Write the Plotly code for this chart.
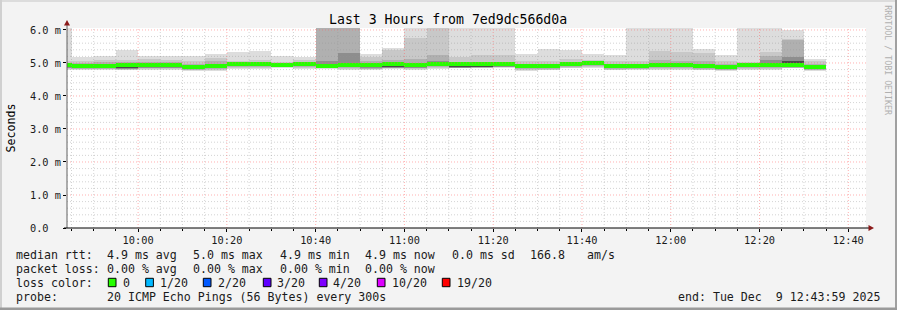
import plotly.graph_objects as go
from datetime import datetime, timedelta

# ---------------- data ----------------
# 5-minute bins, first bin starts 09:40 (partly before the window start)
bin_start = [datetime(2025, 12, 9, 9, 40) + timedelta(minutes=5 * i) for i in range(35)]

median = [4.93, 4.92, 4.92, 4.93, 4.95, 4.95, 4.89, 4.90, 4.98, 4.97, 4.95, 4.96, 4.91, 4.95, 4.93,
          4.97, 4.93, 4.98, 4.96, 4.98, 4.96, 4.91, 4.91, 4.97, 5.01, 4.91, 4.90, 4.94, 4.93, 4.90,
          4.88, 4.94, 4.93, 4.93, 4.89]
# smoke layers (outer -> inner), upper edges
hi1 = [6.5, 5.18, 5.22, 5.38, 5.20, 5.22, 5.21, 5.28, 5.32, 5.35, 5.22, 5.18, 6.5, 6.5, 5.26,
       5.44, 6.5, 6.5, 6.5, 6.5, 6.5, 5.28, 5.43, 5.40, 5.26, 5.25, 6.5, 6.5, 6.5, 5.43,
       5.25, 6.5, 6.5, 5.99, 5.13]
hi2 = [5.05, 5.06, 5.08, 5.10, 5.12, 5.10, 5.05, 5.15, 5.05, 5.10, 5.02, 5.10, 6.5, 6.5, 5.17,
       5.38, 5.75, 6.5, 5.19, 5.24, 5.24, 5.05, 5.05, 5.12, 5.08, 5.05, 5.05, 5.36, 5.32, 5.29,
       5.06, 5.02, 5.32, 5.73, 5.05]
hi3 = [4.99, 5.00, 5.02, 5.02, 5.02, 5.02, 4.98, 5.05, 5.01, 5.03, 4.99, 5.01, 6.5, 6.5, 5.05,
       5.08, 5.12, 5.24, 5.04, 5.04, 5.02, 4.98, 4.98, 5.03, 5.06, 4.98, 4.97, 5.08, 5.05, 5.05,
       4.98, 5.00, 5.20, 5.70, 4.98]
hi4 = [4.97, 4.96, 4.98, 4.97, 4.98, 4.98, 4.94, 4.96, 5.01, 5.01, 4.99, 4.99, 5.05, 5.30, 4.98,
       5.02, 4.97, 5.05, 5.00, 5.01, 4.99, 4.95, 4.95, 5.01, 5.04, 4.96, 4.94, 5.00, 4.98, 4.96,
       4.93, 4.98, 5.10, 5.19, 4.94]
hi5 = [4.95, 4.94, 4.96, 4.95, 4.97, 4.97, 4.91, 4.92, 5.00, 4.99, 5.00, 4.98, 4.98, 5.00, 4.95,
       4.99, 4.95, 5.00, 4.98, 5.00, 4.98, 4.93, 4.93, 4.99, 5.03, 4.96, 4.92, 4.96, 4.95, 4.92,
       4.90, 4.96, 4.98, 5.05, 4.91]
# lower edges
lo5 = [4.90, 4.89, 4.89, 4.85, 4.87, 4.87, 4.86, 4.87, 4.95, 4.94, 4.92, 4.93, 4.88, 4.92, 4.90,
       4.88, 4.90, 4.95, 4.88, 4.89, 4.93, 4.88, 4.88, 4.94, 4.98, 4.88, 4.87, 4.91, 4.90, 4.87,
       4.85, 4.91, 4.90, 4.90, 4.86]
lo4 = [4.86, 4.85, 4.85, 4.83, 4.86, 4.86, 4.83, 4.84, 4.91, 4.91, 4.89, 4.90, 4.85, 4.88, 4.86,
       4.86, 4.86, 4.91, 4.86, 4.87, 4.89, 4.85, 4.85, 4.90, 4.94, 4.85, 4.84, 4.88, 4.87, 4.84,
       4.82, 4.88, 4.87, 4.87, 4.83]
lo3 = [4.84, 4.83, 4.83, 4.81, 4.84, 4.84, 4.80, 4.81, 4.88, 4.88, 4.87, 4.88, 4.85, 4.84, 4.83,
       4.85, 4.84, 4.88, 4.85, 4.86, 4.87, 4.82, 4.82, 4.88, 4.90, 4.82, 4.82, 4.85, 4.84, 4.82,
       4.80, 4.85, 4.84, 4.85, 4.80]
lo2 = [4.82, 4.81, 4.81, 4.79, 4.82, 4.82, 4.78, 4.78, 4.86, 4.86, 4.87, 4.86, 4.85, 4.81, 4.81,
       4.84, 4.82, 4.86, 4.87, 4.87, 4.87, 4.79, 4.80, 4.86, 4.87, 4.80, 4.81, 4.81, 4.81, 4.80,
       4.78, 4.82, 4.81, 4.85, 4.78]
lo1 = [4.80, 4.78, 4.78, 4.78, 4.80, 4.80, 4.75, 4.75, 4.83, 4.83, 4.85, 4.83, 4.83, 4.78, 4.78,
       4.83, 4.80, 4.83, 4.85, 4.85, 4.85, 4.75, 4.78, 4.85, 4.85, 4.78, 4.80, 4.78, 4.78, 4.78,
       4.75, 4.78, 4.78, 4.85, 4.76]

y_tick_vals = [0, 1, 2, 3, 4, 5, 6]
y_tick_text = ["0.0\u00a0\u00a0", "1.0 m", "2.0 m", "3.0 m", "4.0 m", "5.0 m", "6.0 m"]

title_text = "Last 3 Hours from 7ed9dc566d0a"
rtt_stats = ["4.9 ms avg", "5.0 ms max", "4.9 ms min", "4.9 ms now", "0.0 ms sd", "166.8", "am/s"]
loss_stats = ["0.00 % avg", "0.00 % max", "0.00 % min", "0.00 % now"]
loss_labels = ["0", "1/20", "2/20", "3/20", "4/20", "10/20", "19/20"]
loss_colors = ["#26ff00", "#00b8ff", "#0059ff", "#5e00ff", "#7e00ff", "#dd00ff", "#ff0000"]
probe_text = "20 ICMP Echo Pings (56 Bytes) every 300s"
end_text = "end: Tue Dec\u00a0\u00a09 12:43:59 2025"

for arr in (median, hi1, hi2, hi3, hi4, hi5, lo1, lo2, lo3, lo4, lo5):
    assert len(arr) == len(bin_start)

# ---------------- figure ----------------
W, H = 897, 310
ML, MR, MT, MB = 67, 31, 28, 82
PW, PH = W - ML - MR, H - MT - MB


def px(xp):
    return (xp - ML) / PW


def py(yp):
    return (H - MB - yp) / PH


MONO = "DejaVu Sans Mono"
centers = [b + timedelta(minutes=2.5) for b in bin_start]
BW = 5 * 60 * 1000

fig = go.Figure()
layers = [(lo1, hi1, "#dddddd"), (lo2, hi2, "#c8c8c8"), (lo3, hi3, "#b0b0b0"),
          (lo4, hi4, "#8e8e8e"), (lo5, hi5, "#4a4a4a")]
for lo, hi, col in layers:
    fig.add_trace(go.Bar(x=centers, base=lo, y=[h - l for h, l in zip(hi, lo)], width=BW,
                         marker=dict(color=col, line=dict(width=0)), hoverinfo="skip",
                         showlegend=False))
# median band
MW = 0.12
fig.add_trace(go.Bar(x=centers, base=[m - MW / 2 for m in median], y=[MW] * len(median), width=BW,
                     marker=dict(color=loss_colors[0], line=dict(width=0)), hoverinfo="skip",
                     showlegend=False))

t0 = datetime(2025, 12, 9, 9, 43, 59)
t1 = datetime(2025, 12, 9, 12, 43, 59)

shapes = []
# grid above data (dotted)
minor_c = "rgba(150,150,150,0.42)"
major_c = "rgba(255,100,100,0.5)"
DASH = "1px,2px"
for k in range(1, 31):
    v = k * 0.2
    is_major = k % 5 == 0
    shapes.append(dict(type="line", xref="paper", yref="y", x0=0, x1=1, y0=v, y1=v, layer="above",
                       line=dict(color=major_c if is_major else minor_c, width=1, dash=DASH)))
t = datetime(2025, 12, 9, 9, 45)
while t <= t1:
    is_major = t.minute % 20 == 0
    shapes.append(dict(type="line", xref="x", yref="paper", x0=t, x1=t, y0=0, y1=1, layer="above",
                       line=dict(color=major_c if is_major else minor_c, width=1, dash=DASH)))
    t += timedelta(minutes=5)

# axes lines and arrows
shapes.append(dict(type="line", xref="paper", yref="paper", x0=px(67), x1=px(67), y0=py(228),
                   y1=py(23), line=dict(color="#606060", width=1), layer="above"))
shapes.append(dict(type="line", xref="paper", yref="paper", x0=px(64), x1=px(869), y0=py(228),
                   y1=py(228), line=dict(color="#000000", width=1), layer="above"))
AR = "#8b1a1a"
shapes.append(dict(type="path", xref="paper", yref="paper",
                   path=f"M {px(64)} {py(25.5)} L {px(70)} {py(25.5)} L {px(67)} {py(20)} Z",
                   fillcolor=AR, line=dict(color=AR, width=0), layer="above"))
shapes.append(dict(type="path", xref="paper", yref="paper",
                   path=f"M {px(868.5)} {py(225)} L {px(868.5)} {py(231)} L {px(874)} {py(228)} Z",
                   fillcolor=AR, line=dict(color=AR, width=0), layer="above"))

# frame
shapes.append(dict(type="rect", xref="paper", yref="paper", x0=px(0), x1=px(897), y0=py(0),
                   y1=py(2), fillcolor="#dcdcdc", line=dict(width=0)))
shapes.append(dict(type="rect", xref="paper", yref="paper", x0=px(0), x1=px(2), y0=py(0),
                   y1=py(310), fillcolor="#d0d0d0", line=dict(width=0)))
shapes.append(dict(type="rect", xref="paper", yref="paper", x0=px(895), x1=px(897), y0=py(0),
                   y1=py(310), fillcolor="#a0a0a0", line=dict(width=0)))
shapes.append(dict(type="rect", xref="paper", yref="paper", x0=px(0), x1=px(897), y0=py(307.5),
                   y1=py(310), fillcolor="#9a9a9a", line=dict(width=0)))

# legend swatches
sw_x = [108.3, 145.7, 203.3, 263.3, 319.3, 377.3, 442.3]
for xs, col in zip(sw_x, loss_colors):
    shapes.append(dict(type="rect", xref="paper", yref="paper", x0=px(xs), x1=px(xs + 7.7),
                       y0=py(286.7), y1=py(278.3), fillcolor=col,
                       line=dict(color="#000000", width=1)))

annotations = []


def txt(x, y, s, size=11.6, color="#1a1a1a", **kw):
    d = dict(xref="paper", yref="paper", x=px(x), y=py(y), text=s, showarrow=False,
             xanchor="left", yanchor="middle", borderpad=0, borderwidth=0,
             font=dict(family=MONO, size=size, color=color))
    d.update(kw)
    annotations.append(d)


# title
annotations.append(dict(xref="paper", yref="paper", x=px(448), y=py(19.3), text=title_text,
                        showarrow=False, xanchor="center", yanchor="middle",
                        font=dict(family=MONO, size=13.2, color="#000000")))
# y label
annotations.append(dict(xref="paper", yref="paper", x=px(10.5), y=py(128), text="Seconds",
                        showarrow=False, xanchor="center", yanchor="middle", textangle=-90,
                        font=dict(family=MONO, size=11.6, color="#000000")))
# watermark
annotations.append(dict(xref="paper", yref="paper", x=px(887.8), y=py(60), text="RRDTOOL / TOBI OETIKER",
                        showarrow=False, xanchor="center", yanchor="middle", textangle=90,
                        font=dict(family=MONO, size=8.3, color="#b0b0b0")))

# legend lines
y1, y2, y3, y4 = 255, 268.5, 282.5, 296.5
txt(16, y1, "median rtt:")
for xs, s in zip([107.3, 193.3, 280, 365, 451.7, 530, 586.7], rtt_stats):
    txt(xs, y1, s)
txt(16, y2, "packet loss:")
for xs, s in zip([107.3, 193.3, 280, 365], loss_stats):
    txt(xs, y2, s)
txt(16, y3, "loss color:")
for xs, s in zip([123.3, 160, 217.7, 276.7, 333.3, 391.7, 456.7], loss_labels):
    txt(xs, y3, s)
txt(16, y4, "probe:")
txt(107.3, y4, probe_text)
txt(677.5, y4, end_text)

fig.update_layout(
    width=W, height=H, margin=dict(l=ML, r=MR, t=MT, b=MB, pad=0),
    paper_bgcolor="#f3f3f3", plot_bgcolor="#ffffff",
    barmode="overlay", bargap=0, showlegend=False,
    shapes=shapes, annotations=annotations,
    xaxis=dict(type="date", range=[t0, t1], showgrid=False, zeroline=False, showline=False,
               tick0=datetime(2025, 12, 9, 10, 0), dtick=20 * 60 * 1000, tickformat="%H:%M",
               ticks="outside", ticklen=3, tickcolor="#000000", tickwidth=1,
               minor=dict(tick0=datetime(2025, 12, 9, 9, 45), dtick=5 * 60 * 1000,
                          ticks="outside", ticklen=2, tickcolor="#000000", showgrid=False),
               tickfont=dict(family=MONO, size=10.3, color="#1a1a1a"), fixedrange=True),
    yaxis=dict(range=[0, 6.06], showgrid=False, zeroline=False, showline=False,
               tickvals=y_tick_vals, ticktext=y_tick_text,
               ticks="outside", ticklen=3, tickcolor="#000000", tickwidth=1,
               tickfont=dict(family=MONO, size=10.3, color="#1a1a1a"), fixedrange=True),
)

fig.write_html("out.html", config={"displayModeBar": False, "staticPlot": True})
